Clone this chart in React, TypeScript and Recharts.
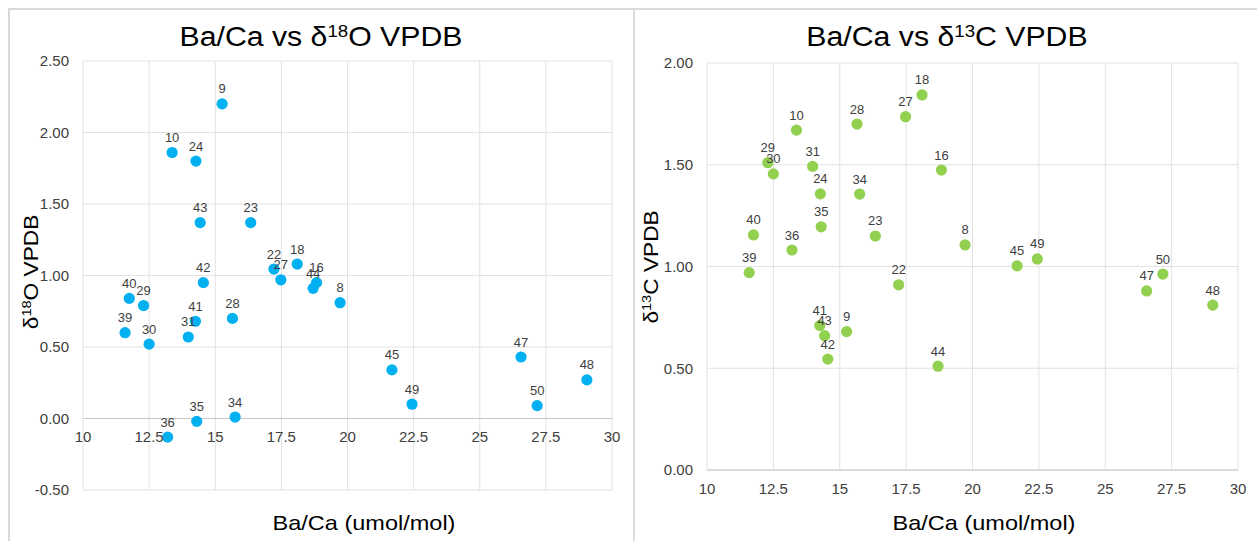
import React from "react";
import {
  ScatterChart,
  Scatter,
  XAxis,
  YAxis,
  CartesianGrid,
  ReferenceLine,
  LabelList,
} from "recharts";

// sample numbers used as point labels
const sampleIds = [
  8, 9, 10, 16, 18, 22, 23, 24, 27, 28, 29, 30, 31, 34, 35, 36, 39, 40, 41, 42,
  43, 44, 45, 47, 48, 49, 50,
];

// Ba/Ca (umol/mol)
const baCa = [
  19.72, 15.26, 13.37, 18.83, 18.1, 17.22, 16.34, 14.27, 17.48, 15.65, 12.29,
  12.5, 13.98, 15.75, 14.3, 13.2, 11.59, 11.75, 14.25, 14.55, 14.43, 18.7,
  21.68, 26.56, 29.05, 22.44, 27.17,
];

// δ18O VPDB
const d18O = [
  0.81, 2.2, 1.86, 0.95, 1.08, 1.045, 1.37, 1.8, 0.97, 0.7, 0.79, 0.52, 0.57,
  0.01, -0.02, -0.13, 0.6, 0.84, 0.68, 0.95, 1.37, 0.91, 0.34, 0.43, 0.27, 0.1,
  0.09,
];

// δ13C VPDB
const d13C = [
  1.106, 0.68, 1.67, 1.474, 1.843, 0.91, 1.15, 1.357, 1.736, 1.7, 1.51, 1.455,
  1.492, 1.356, 1.195, 1.081, 0.97, 1.155, 0.71, 0.545, 0.66, 0.51, 1.003,
  0.88, 0.81, 1.037, 0.963,
];

const xTicks = [10, 12.5, 15, 17.5, 20, 22.5, 25, 27.5, 30];
const oTicks = [-0.5, 0, 0.5, 1, 1.5, 2, 2.5];
const cTicks = [0, 0.5, 1, 1.5, 2];

const oData = sampleIds.map((id, i) => ({ id, x: baCa[i], y: d18O[i] }));
const cData = sampleIds.map((id, i) => ({ id, x: baCa[i], y: d13C[i] }));

const FONT = "Arial, 'Liberation Sans', sans-serif";
const GRID = "#e2e2e2";
const AXIS = "#c6c6c6";
const TICK = { fill: "#404040", fontSize: 15, fontFamily: FONT };

const H = 541;
const leftMargin = { top: 61, right: 21, left: 33, bottom: 21 };
const rightMargin = { top: 63, right: 19, left: 23, bottom: 41 };

// distance of the zero line above the bottom of the left plot
const leftPlotH = H - leftMargin.top - leftMargin.bottom - 30;
const zeroShift = (leftPlotH * (0 - oTicks[0])) / (oTicks[oTicks.length - 1] - oTicks[0]);

const Dot = (color: string) => (p: any) =>
  <circle cx={p.cx} cy={p.cy} r={5.6} fill={color} />;

const PointLabel = (props: any) => {
  const vb = props.viewBox && props.viewBox.width !== undefined ? props.viewBox : props;
  const cx = (vb.x ?? 0) + (vb.width ?? 0) / 2;
  const cy = (vb.y ?? 0) + (vb.height ?? 0) / 2;
  return (
    <text
      x={cx}
      y={cy - 10.5}
      textAnchor="middle"
      fontSize={13}
      fontFamily={FONT}
      fill="#404040"
    >
      {props.value}
    </text>
  );
};

const ZeroTick = ({ x, y, payload }: any) => (
  <text
    x={x}
    y={y - zeroShift + 23}
    textAnchor="middle"
    fontSize={15}
    fontFamily={FONT}
    fill="#404040"
  >
    {payload.value}
  </text>
);

export default function App() {
  return (
    <div
      style={{
        position: "absolute",
        left: 0,
        top: 0,
        width: 1257,
        height: H,
        background: "#fff",
        overflow: "hidden",
        fontFamily: FONT,
      }}
    >
      {/* panel borders */}
      <div
        style={{
          position: "absolute",
          left: 8,
          top: 8,
          width: 1300,
          height: 600,
          border: "2px solid #d9d9d9",
        }}
      />
      <div
        style={{
          position: "absolute",
          left: 633,
          top: 9,
          width: 1.5,
          height: 600,
          background: "#dcdcdc",
        }}
      />

      <div style={{ position: "absolute", left: 0, top: 0 }}>
        <ScatterChart width={633} height={H} margin={leftMargin}>
          <CartesianGrid stroke={GRID} />
          <XAxis
            type="number"
            dataKey="x"
            domain={[10, 30]}
            ticks={xTicks}
            height={30}
            axisLine={false}
            tickLine={false}
            tickSize={0}
            tickMargin={0}
            tick={<ZeroTick />}
            interval={0}
          />
          <YAxis
            type="number"
            dataKey="y"
            domain={[-0.5, 2.5]}
            ticks={oTicks}
            width={50}
            axisLine={false}
            tickLine={false}
            tickMargin={8}
            tick={TICK}
            tickFormatter={(v: number) => v.toFixed(2)}
            interval={0}
          />
          <ReferenceLine y={0} stroke={AXIS} strokeWidth={1.2} />
          <Scatter
            data={oData}
            fill="#00b0f0"
            shape={Dot("#00b0f0")}
            isAnimationActive={false}
          >
            <LabelList dataKey="id" content={<PointLabel />} />
          </Scatter>
        </ScatterChart>
      </div>

      <div style={{ position: "absolute", left: 634, top: 0 }}>
        <ScatterChart width={623} height={H} margin={rightMargin}>
          <CartesianGrid stroke={GRID} />
          <XAxis
            type="number"
            dataKey="x"
            domain={[10, 30]}
            ticks={xTicks}
            height={30}
            axisLine={{ stroke: AXIS, strokeWidth: 1.2 }}
            tickLine={false}
            tickMargin={7}
            tick={TICK}
            interval={0}
          />
          <YAxis
            type="number"
            dataKey="y"
            domain={[0, 2]}
            ticks={cTicks}
            width={50}
            axisLine={false}
            tickLine={false}
            tickMargin={8}
            tick={TICK}
            tickFormatter={(v: number) => v.toFixed(2)}
            interval={0}
          />
          <Scatter
            data={cData}
            fill="#92d050"
            shape={Dot("#92d050")}
            isAnimationActive={false}
          >
            <LabelList dataKey="id" content={<PointLabel />} />
          </Scatter>
        </ScatterChart>
      </div>

      {/* titles and axis titles */}
      <svg
        width={1257}
        height={H}
        style={{ position: "absolute", left: 0, top: 0, pointerEvents: "none" }}
        fontFamily={FONT}
      >
        <text
          transform="translate(321,45.5) scale(1.1,1)"
          textAnchor="middle"
          fontSize={27.5}
          fill="#000"
        >
          Ba/Ca vs δ
          <tspan fontSize={17} dy={-9}>
            18
          </tspan>
          <tspan dy={9}>O VPDB</tspan>
        </text>
        <text
          transform="translate(947,45.5) scale(1.1,1)"
          textAnchor="middle"
          fontSize={27.5}
          fill="#000"
        >
          Ba/Ca vs δ
          <tspan fontSize={17} dy={-9}>
            13
          </tspan>
          <tspan dy={9}>C VPDB</tspan>
        </text>
        <text
          transform="translate(38,272) rotate(-90) scale(1.08,1)"
          textAnchor="middle"
          fontSize={21}
          fill="#000"
        >
          δ
          <tspan fontSize={13.5} dy={-7}>
            18
          </tspan>
          <tspan dy={7}>O VPDB</tspan>
        </text>
        <text
          transform="translate(658,267) rotate(-90) scale(1.08,1)"
          textAnchor="middle"
          fontSize={21}
          fill="#000"
        >
          δ
          <tspan fontSize={13.5} dy={-7}>
            13
          </tspan>
          <tspan dy={7}>C VPDB</tspan>
        </text>
        <text
          transform="translate(364,530) scale(1.12,1)"
          textAnchor="middle"
          fontSize={21}
          fill="#000"
        >
          Ba/Ca (umol/mol)
        </text>
        <text
          transform="translate(984,530) scale(1.12,1)"
          textAnchor="middle"
          fontSize={21}
          fill="#000"
        >
          Ba/Ca (umol/mol)
        </text>
      </svg>
    </div>
  );
}
